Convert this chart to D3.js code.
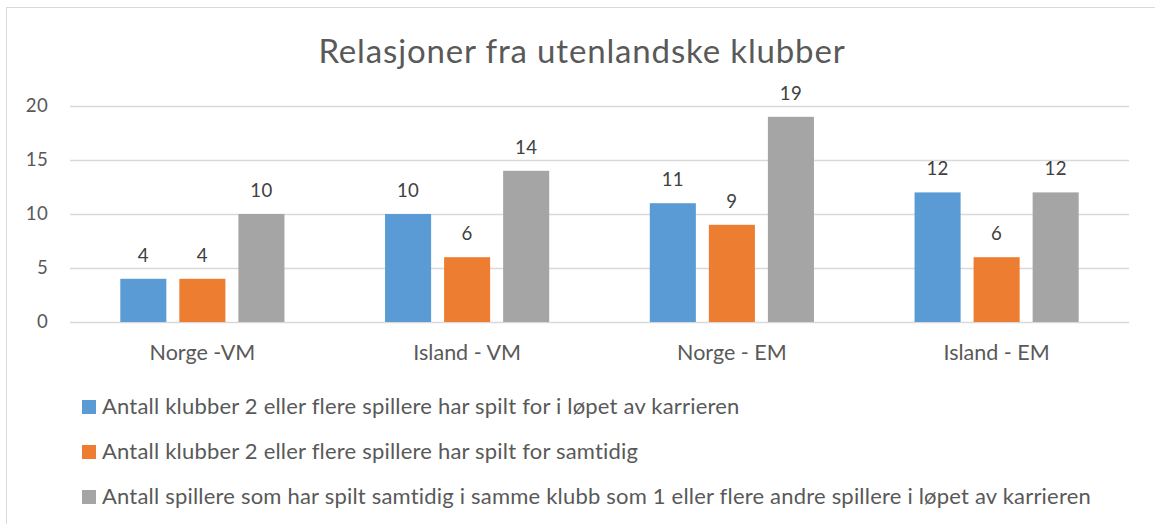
<!DOCTYPE html>
<html>
<head>
<meta charset="utf-8">
<script src="https://cdn.jsdelivr.net/npm/d3@7"></script>
<style>
  body { margin: 0; background: #fff; }
  svg { display: block; font-family: Lato, "Open Sans", sans-serif; }
</style>
</head>
<body>
<svg width="1155" height="524"></svg>
<script>
// data
const categories = ["Norge -VM", "Island - VM", "Norge - EM", "Island - EM"];
const seriesNames = [
  "Antall klubber 2 eller flere spillere har spilt for i løpet av karrieren",
  "Antall klubber 2 eller flere spillere har spilt for samtidig",
  "Antall spillere som har spilt samtidig i samme klubb som 1 eller flere andre spillere i løpet av karrieren"
];
const careerClubs = [4, 10, 11, 12];
const sameTimeClubs = [4, 6, 9, 6];
const playersSameClub = [10, 14, 19, 12];
const yTicks = [0, 5, 10, 15, 20];
const colors = ["#5B9BD5", "#ED7D31", "#A5A5A5"];

const svgWidth = 1155;
const svgHeight = 524;
const plot = { left: 70, right: 1129, top: 106, bottom: 322 };

const svg = d3.select("svg");

// chart frame
svg.append("rect")
    .attr("x", 6.5).attr("y", 7.5)
    .attr("width", 1160).attr("height", 540)
    .attr("fill", "#fff")
    .attr("stroke", "#D9D9D9");

// title
svg.append("text")
    .attr("x", 582).attr("y", 63)
    .attr("text-anchor", "middle")
    .attr("font-size", 33)
    .attr("letter-spacing", 0.85)
    .attr("fill", "#595959")
    .text("Relasjoner fra utenlandske klubber");

const values = [careerClubs, sameTimeClubs, playersSameClub];
const rows = categories.map((c, i) => ({
    category: c,
    bars: values.map((v, s) => ({ series: s, value: v[i] }))
}));

// scales
const x0 = d3.scaleBand()
    .domain(categories)
    .range([plot.left, plot.right])
    .paddingInner(0.38)
    .paddingOuter(0.19);

const x1 = d3.scaleBand()
    .domain([0, 1, 2])
    .range([0, x0.bandwidth()])
    .paddingInner(0.22);

const y = d3.scaleLinear()
    .domain([0, 20])
    .range([plot.bottom, plot.top]);

// gridlines
svg.append("g")
    .selectAll("line")
    .data(yTicks)
    .enter().append("line")
    .attr("x1", plot.left).attr("x2", plot.right)
    .attr("y1", d => y(d) + 0.5).attr("y2", d => y(d) + 0.5)
    .attr("stroke", "#D9D9D9")
    .attr("stroke-width", 1.3);

// y axis labels
const yAxis = svg.append("g")
    .attr("transform", `translate(${plot.left}, 0)`)
    .call(d3.axisLeft(y).tickValues(yTicks).tickSize(0).tickPadding(22));
yAxis.select(".domain").remove();
yAxis.selectAll("text")
    .attr("font-size", 18.6)
    .attr("font-family", "Lato")
    .attr("letter-spacing", 0.3)
    .attr("fill", "#595959");

// bars
const groups = svg.append("g")
    .selectAll("g")
    .data(rows)
    .enter().append("g")
    .attr("transform", d => `translate(${x0(d.category)}, 0)`);

groups.selectAll("rect")
    .data(d => d.bars)
    .enter().append("rect")
    .attr("x", d => x1(d.series))
    .attr("y", d => y(d.value))
    .attr("width", x1.bandwidth())
    .attr("height", d => y(0) - y(d.value))
    .attr("fill", d => colors[d.series]);

// value labels
groups.selectAll("text")
    .data(d => d.bars)
    .enter().append("text")
    .attr("x", d => x1(d.series) + x1.bandwidth() / 2)
    .attr("y", d => y(d.value) - 17)
    .attr("text-anchor", "middle")
    .attr("font-size", 18.6)
    .attr("letter-spacing", 0.3)
    .attr("fill", "#404040")
    .text(d => d.value);

// x axis labels
const xAxis = svg.append("g")
    .attr("transform", `translate(0, ${plot.bottom})`)
    .call(d3.axisBottom(x0).tickSize(0).tickPadding(23));
xAxis.select(".domain").remove();
xAxis.selectAll("text")
    .attr("font-size", 21.5)
    .attr("font-family", "Lato")
    .attr("fill", "#595959");

// legend
const legend = svg.append("g")
    .selectAll("g")
    .data(seriesNames)
    .enter().append("g")
    .attr("transform", (d, i) => `translate(82, ${400 + i * 45})`);

legend.append("rect")
    .attr("width", 14).attr("height", 14)
    .attr("fill", (d, i) => colors[i]);

legend.append("text")
    .attr("x", 20).attr("y", 14)
    .attr("font-size", 22)
    .attr("letter-spacing", 0.2)
    .attr("fill", "#595959")
    .text(d => d);
</script>
</body>
</html>
